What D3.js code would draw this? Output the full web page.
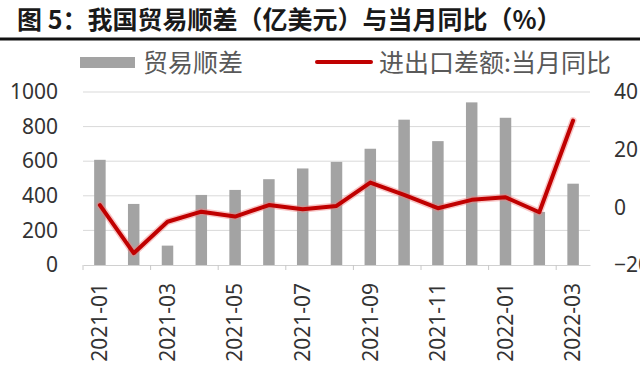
<!DOCTYPE html>
<html>
<head>
<meta charset="utf-8">
<script src="https://cdn.jsdelivr.net/npm/d3@7"></script>
<style>
  body { margin: 0; background: #fff; }
  svg { display: block; }
  text { font-family: "Noto Sans", "Noto Sans CJK SC", sans-serif; }
</style>
</head>
<body>
<div class="chartDiv"></div>
<script>
// months on the x axis
var months = ["2021-01", "2021-02", "2021-03", "2021-04", "2021-05", "2021-06", "2021-07", "2021-08",
	"2021-09", "2021-10", "2021-11", "2021-12", "2022-01", "2022-02", "2022-03"];
// trade surplus, 100 million USD (left axis)
var surplus = [608, 353, 112, 405, 434, 496, 558, 596, 672, 840, 716, 940, 851, 307, 470];
// yoy %, right axis
var yoy = [0.8, -15.9, -5, -1.5, -3.2, 0.8, -0.7, 0.5, 8.6, 4.3, -0.3, 2.6, 3.5, -1.7, 30.1];
var leftTicks = [0, 200, 400, 600, 800, 1000];
var rightTicks = [-20, 0, 20, 40];
var labelMonths = ["2021-01", "2021-03", "2021-05", "2021-07", "2021-09", "2021-11", "2022-01", "2022-03"];

var width = 640, height = 376;
var margin = {left: 83, right: 590, top: 92, bottom: 265};

var svg = d3.select(".chartDiv").append("svg")
	.attr("width", width)
	.attr("height", height);

svg.append("rect").attr("width", width).attr("height", height).attr("fill", "#fff");

// title + black rule
svg.append("text")
	.attr("x", 17)
	.attr("y", 18)
	.attr("dominant-baseline", "central")
	.style("font-family", '"Noto Sans CJK SC", sans-serif')
	.style("font-size", "25px")
	.style("font-weight", "bold")
	.style("fill", "#1a1a1a")
	.text("图 5：我国贸易顺差（亿美元）与当月同比（%）");

svg.append("line")
	.attr("x1", 0).attr("x2", width)
	.attr("y1", 39).attr("y2", 39)
	.attr("stroke", "#111")
	.attr("stroke-width", 3);

var xScale = d3.scaleBand().domain(months).range([margin.left, margin.right]).paddingInner(0.66).paddingOuter(0.33);
var yLeft = d3.scaleLinear().domain([0, 1000]).range([margin.bottom, margin.top]);
var yRight = d3.scaleLinear().domain([-20, 40]).range([margin.bottom, margin.top]);

// gridlines
svg.append("g")
	.selectAll("line")
	.data(leftTicks.slice(1))
	.enter().append("line")
	.attr("x1", margin.left).attr("x2", margin.right)
	.attr("y1", function (d) { return yLeft(d); })
	.attr("y2", function (d) { return yLeft(d); })
	.attr("stroke", "#d9d9d9")
	.attr("stroke-width", 1);

// bars
svg.append("g")
	.selectAll("rect")
	.data(surplus)
	.enter().append("rect")
	.attr("x", function (d, i) { return xScale(months[i]); })
	.attr("y", function (d) { return yLeft(d); })
	.attr("width", xScale.bandwidth())
	.attr("height", function (d) { return yLeft(0) - yLeft(d); })
	.attr("fill", "#a3a3a3");

// x axis
var step = xScale.step();
var xAxis = svg.append("g")
	.attr("transform", "translate(0," + margin.bottom + ")")
	.call(d3.axisBottom(xScale).tickValues(labelMonths).tickSize(0).tickSizeOuter(0));
xAxis.select(".domain").attr("stroke", "#d0d0d0");
xAxis.selectAll("text")
	.style("font-size", "21px")
	.style("fill", "#333")
	.attr("transform", "rotate(-90)")
	.attr("text-anchor", "end")
	.attr("x", -18)
	.attr("y", 0)
	.attr("dy", "0.35em");

// tick marks on band edges every 2 months
xAxis.selectAll(".edge")
	.data(labelMonths)
	.enter().append("line")
	.attr("class", "edge")
	.attr("x1", function (d) { return xScale(d) - (step - xScale.bandwidth()) / 2; })
	.attr("x2", function (d) { return xScale(d) - (step - xScale.bandwidth()) / 2; })
	.attr("y1", 0).attr("y2", 5)
	.attr("stroke", "#c8c8c8");

// left axis
var yAxisL = svg.append("g")
	.attr("transform", "translate(58,0)")
	.call(d3.axisLeft(yLeft).tickValues(leftTicks).tickFormat(d3.format("d")).tickSize(0).tickPadding(0));
yAxisL.select(".domain").remove();
yAxisL.selectAll("text").style("font-size", "21px").style("fill", "#333");

// right axis
var yAxisR = svg.append("g")
	.attr("transform", "translate(614,0)")
	.call(d3.axisRight(yRight).tickValues(rightTicks).tickFormat(d3.format("d")).tickSize(0).tickPadding(0));
yAxisR.select(".domain").remove();
yAxisR.selectAll("text").style("font-size", "21px").style("fill", "#333");

// yoy line
var line = d3.line()
	.x(function (d, i) { return xScale(months[i]) + xScale.bandwidth() / 2; })
	.y(function (d) { return yRight(d); });

svg.append("path")
	.datum(yoy)
	.attr("d", line)
	.attr("fill", "none")
	.attr("stroke", "#f08080")
	.attr("stroke-opacity", 0.45)
	.attr("stroke-width", 7)
	.attr("stroke-linejoin", "round")
	.attr("stroke-linecap", "round");

svg.append("path")
	.datum(yoy)
	.attr("d", line)
	.attr("fill", "none")
	.attr("stroke", "#c00000")
	.attr("stroke-width", 4)
	.attr("stroke-linejoin", "round")
	.attr("stroke-linecap", "round");

// legend
var legend = svg.append("g");
legend.append("rect")
	.attr("x", 80).attr("y", 57)
	.attr("width", 55).attr("height", 11)
	.attr("fill", "#a3a3a3");
legend.append("text")
	.attr("x", 143).attr("y", 61)
	.attr("dominant-baseline", "central")
	.style("font-family", '"Noto Sans CJK SC", sans-serif')
	.style("font-size", "25px")
	.style("fill", "#595959")
	.text("贸易顺差");
legend.append("line")
	.attr("x1", 317).attr("x2", 371)
	.attr("y1", 62).attr("y2", 62)
	.attr("stroke", "#c00000")
	.attr("stroke-width", 4)
	.attr("stroke-linecap", "round");
legend.append("text")
	.attr("x", 379).attr("y", 61)
	.attr("dominant-baseline", "central")
	.style("font-family", '"Noto Sans CJK SC", sans-serif')
	.style("font-size", "25px")
	.style("fill", "#595959")
	.text("进出口差额:当月同比");
</script>
</body>
</html>
